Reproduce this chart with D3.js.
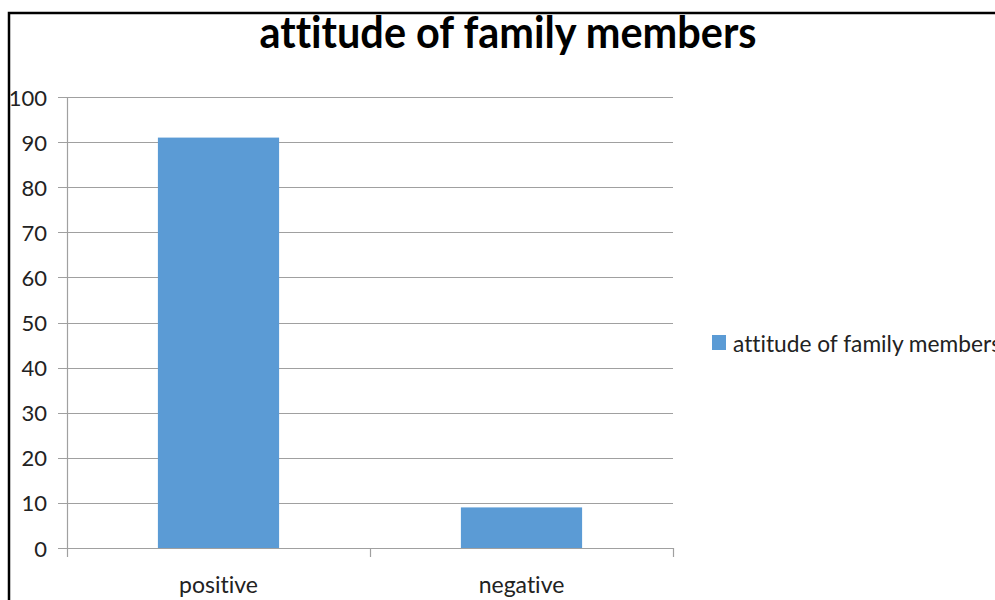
<!DOCTYPE html>
<html>
<head>
<meta charset="utf-8">
<script src="https://cdn.jsdelivr.net/npm/d3@7"></script>
<style>
  html, body { margin: 0; padding: 0; background: #fff; }
  svg { display: block; }
  text { font-family: Lato, "Open Sans", sans-serif; fill: #222; font-variant-ligatures: none; font-feature-settings: "liga" 0, "clig" 0; }
</style>
</head>
<body>
<svg id="chart" width="995" height="600"></svg>
<script>
const categories = ["positive", "negative"];
const values = [91, 9];
const yTicks = [0, 10, 20, 30, 40, 50, 60, 70, 80, 90, 100];
const titleText = "attitude of family members";
const seriesName = "attitude of family members";

const svg = d3.select("#chart");
const W = 995, H = 600;
const plot = { left: 67, right: 673, top: 97, bottom: 548 };

// outer frame (left + top lines)
svg.append("path")
  .attr("d", `M9,${H} L9,13 L${W},13`)
  .attr("fill", "none").attr("stroke", "#000").attr("stroke-width", 2.5);

const x = d3.scaleBand().domain(categories)
  .range([plot.left, plot.right]).paddingInner(0.6).paddingOuter(0.3);
const y = d3.scaleLinear().domain([0, 100]).range([plot.bottom, plot.top]);

// gridlines
svg.append("g").selectAll("line").data(yTicks).join("line")
  .attr("x1", plot.left - 9).attr("x2", plot.right)
  .attr("y1", d => Math.round(y(d)) + 0.5).attr("y2", d => Math.round(y(d)) + 0.5)
  .attr("stroke", "#a0a0a0").attr("stroke-width", 1.2);

// y axis line
svg.append("line")
  .attr("x1", plot.left + 0.5).attr("x2", plot.left + 0.5)
  .attr("y1", plot.top).attr("y2", plot.bottom)
  .attr("stroke", "#a0a0a0").attr("stroke-width", 1.2);

// y tick labels
svg.append("g").selectAll("text").data(yTicks).join("text")
  .attr("x", 47).attr("y", d => y(d))
  .attr("text-anchor", "end").attr("dominant-baseline", "central")
  .attr("font-size", 22)
  .text(d => d);

// bars
svg.append("g").selectAll("rect").data(values).join("rect")
  .attr("x", (d, i) => x(categories[i]))
  .attr("y", d => y(d))
  .attr("width", x.bandwidth())
  .attr("height", d => y(0) - y(d))
  .attr("fill", "#5b9bd5");

// x axis line and category ticks
svg.append("line")
  .attr("x1", plot.left).attr("x2", plot.right)
  .attr("y1", plot.bottom + 0.5).attr("y2", plot.bottom + 0.5)
  .attr("stroke", "#a0a0a0").attr("stroke-width", 1.2);
const step = x.step();
const tickXs = d3.range(categories.length + 1).map(i => plot.left + i * step);
svg.append("g").selectAll("line").data(tickXs).join("line")
  .attr("x1", d => d + 0.5).attr("x2", d => d + 0.5)
  .attr("y1", plot.bottom).attr("y2", plot.bottom + 9)
  .attr("stroke", "#a0a0a0").attr("stroke-width", 1.2);

// category labels
svg.append("g").selectAll("text").data(categories).join("text")
  .attr("x", d => x(d) + x.bandwidth() / 2).attr("y", 593)
  .attr("text-anchor", "middle").attr("font-size", 23)
  .text(d => d);

// title
svg.append("text")
  .attr("x", 508).attr("y", 48)
  .attr("text-anchor", "middle")
  .attr("font-size", 43).attr("font-weight", "bold").style("fill", "#000")
  .attr("textLength", 497).attr("lengthAdjust", "spacingAndGlyphs")
  .text(titleText);

// legend (text runs off the right edge, as in the reference)
svg.append("rect").attr("x", 712).attr("y", 335).attr("width", 14).attr("height", 15)
  .attr("fill", "#5b9bd5");
svg.append("text").attr("x", 733).attr("y", 352)
  .attr("font-size", 24)
  .attr("textLength", 268).attr("lengthAdjust", "spacingAndGlyphs")
  .text(seriesName);
</script>
</body>
</html>
